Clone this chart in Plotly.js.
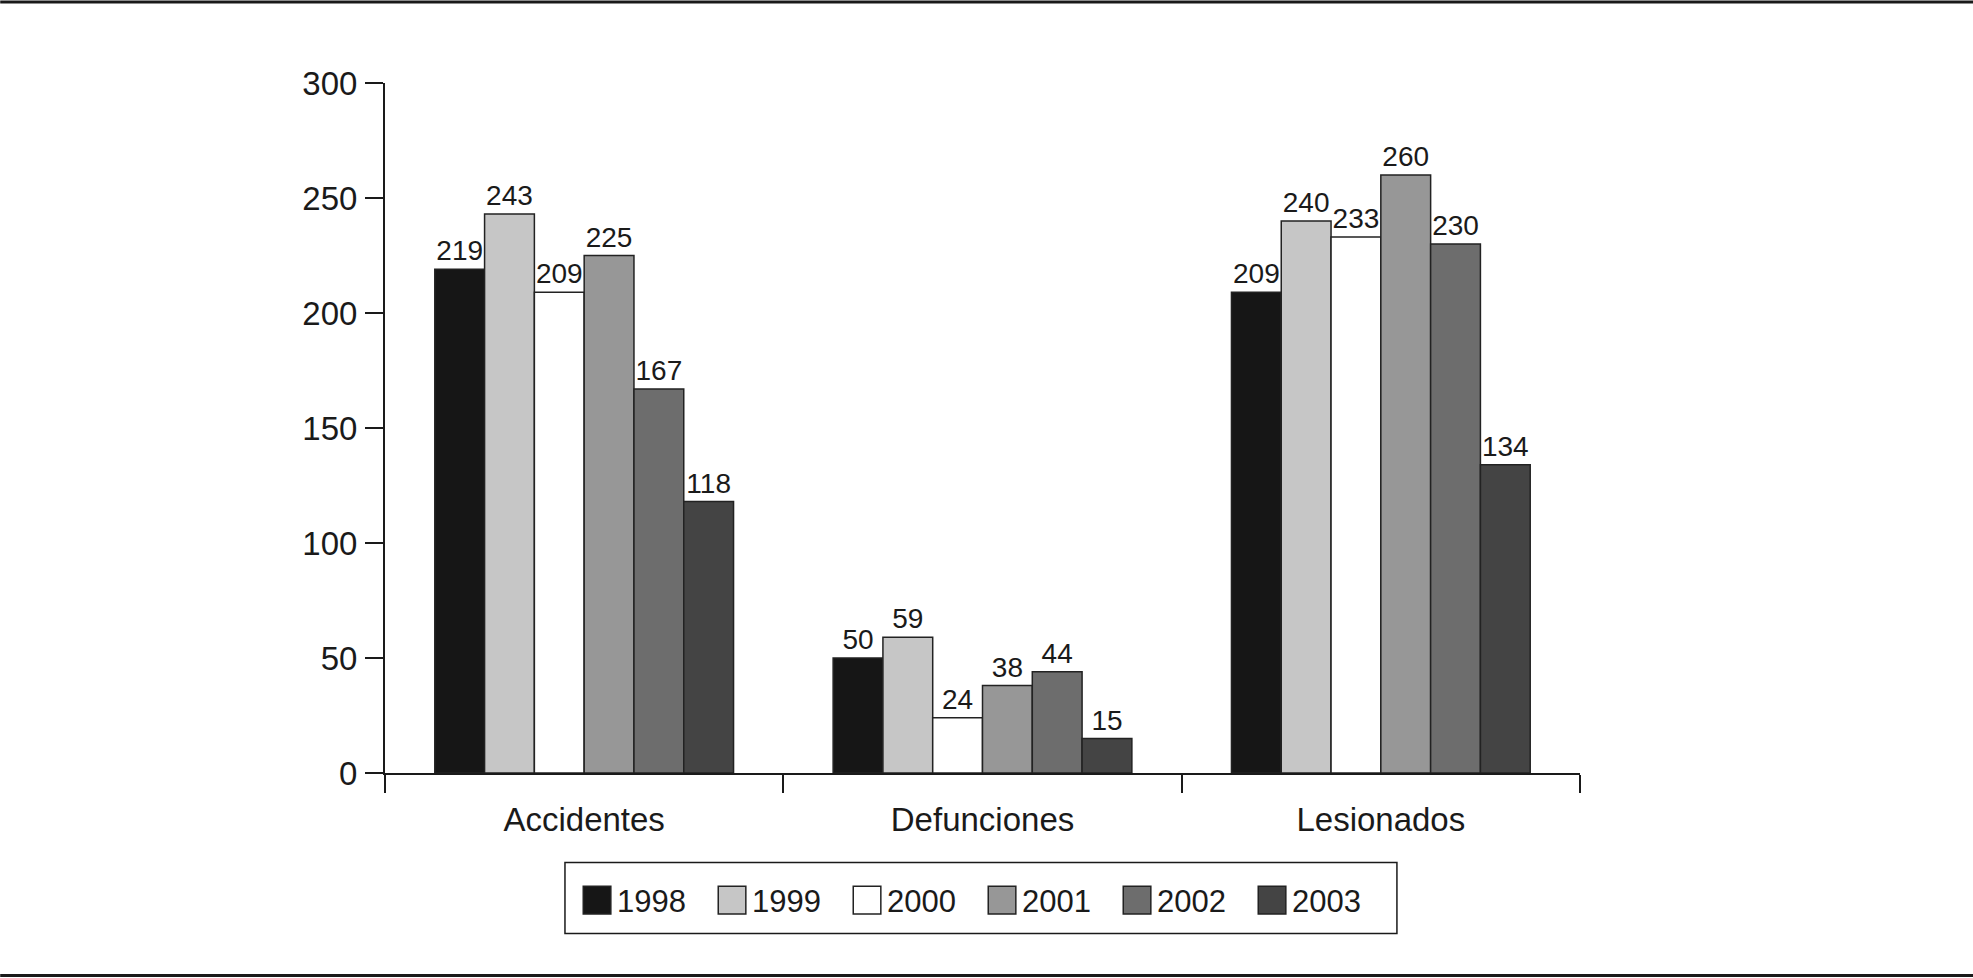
<!DOCTYPE html>
<html>
<head>
<meta charset="utf-8">
<script src="https://cdn.plot.ly/plotly-3.0.1.min.js"></script>
<style>
  html, body { margin: 0; padding: 0; background: #ffffff; }
  #chart { width: 1973px; height: 978px; }
</style>
</head>
<body>
<div id="chart"></div>
<script>
// ---- Data ----
const categories = ['Accidentes', 'Defunciones', 'Lesionados'];
const years = ['1998', '1999', '2000', '2001', '2002', '2003'];
const v1998 = [219, 50, 209];
const v1999 = [243, 59, 240];
const v2000 = [209, 24, 233];
const v2001 = [225, 38, 260];
const v2002 = [167, 44, 230];
const v2003 = [118, 15, 134];
const seriesValues = [v1998, v1999, v2000, v2001, v2002, v2003];
const yTickValues = [0, 50, 100, 150, 200, 250, 300];

// ---- Styles ----
const fillColors = ['#161616', '#c6c6c6', '#ffffff', '#979797', '#6d6d6d', '#444444'];
const ink = '#1a1a1a';
const fontFamily = '"Liberation Sans", Arial, Helvetica, sans-serif';

const traces = years.map((yr, i) => ({
  type: 'bar',
  name: yr,
  x: categories,
  y: seriesValues[i],
  marker: { color: fillColors[i], line: { color: '#222222', width: 1.5 } },
  text: seriesValues[i].map(String),
  texttemplate: '%{text}',
  textposition: 'outside',
  textfont: { family: fontFamily, size: 28, color: ink },
  cliponaxis: false,
  constraintext: 'none',
  hoverinfo: 'x+y+name'
}));

const layout = {
  width: 1973,
  height: 978,
  margin: { l: 385, r: 393, t: 83, b: 205, pad: 0 },
  paper_bgcolor: '#ffffff',
  plot_bgcolor: '#ffffff',
  barmode: 'group',
  bargap: 0.25,
  bargroupgap: 0,
  font: { family: fontFamily, color: ink },
  showlegend: true,
  legend: {
    orientation: 'h',
    x: 0.1607,
    xanchor: 'left',
    y: -0.1456,
    yanchor: 'top',
    font: { family: fontFamily, size: 31, color: ink },
    bgcolor: 'rgba(0,0,0,0)',
    borderwidth: 0,
    entrywidth: 90,
    entrywidthmode: 'pixels',
    traceorder: 'normal'
  },
  xaxis: {
    type: 'category',
    showline: true,
    linecolor: ink,
    linewidth: 2,
    ticks: 'outside',
    tickson: 'boundaries',
    ticklen: 18,
    tickwidth: 2,
    tickcolor: ink,
    showgrid: false,
    zeroline: false,
    tickfont: { family: fontFamily, size: 33, color: ink },
    ticklabelstandoff: 16,
    fixedrange: true
  },
  yaxis: {
    range: [0, 300],
    tickvals: yTickValues,
    ticktext: yTickValues.map(String),
    showline: true,
    linecolor: ink,
    linewidth: 2,
    ticks: 'outside',
    ticklen: 18,
    tickwidth: 2,
    tickcolor: ink,
    showgrid: false,
    zeroline: false,
    tickfont: { family: fontFamily, size: 33, color: ink },
    ticklabelstandoff: 1,
    fixedrange: true
  },
  shapes: [
    // top rule across the page
    { type: 'line', xref: 'paper', yref: 'paper', x0: -0.322, x1: 1.329, y0: 1.1175, y1: 1.1175,
      line: { color: ink, width: 3 } },
    // bottom rule across the page
    { type: 'line', xref: 'paper', yref: 'paper', x0: -0.322, x1: 1.329, y0: -0.2935, y1: -0.2935,
      line: { color: ink, width: 3 } },
    // legend frame
    { type: 'rect', xref: 'paper', yref: 'paper', x0: 0.1506, x1: 0.8468, y0: -0.1297, y1: -0.2327,
      line: { color: ink, width: 1.5 }, fillcolor: 'rgba(0,0,0,0)' }
  ]
};

Plotly.newPlot('chart', traces, layout, { displayModeBar: false, staticPlot: true }).then(gd => {
  // enlarge the legend swatches to match the reference's big squares (keep original translate)
  document.querySelectorAll('#chart .legend .legendpoints path').forEach(p => {
    const t = p.getAttribute('transform') || '';
    p.setAttribute('transform', t + ' scale(2.3)');
    p.style.strokeWidth = '0.65px';
  });
});
</script>
</body>
</html>
